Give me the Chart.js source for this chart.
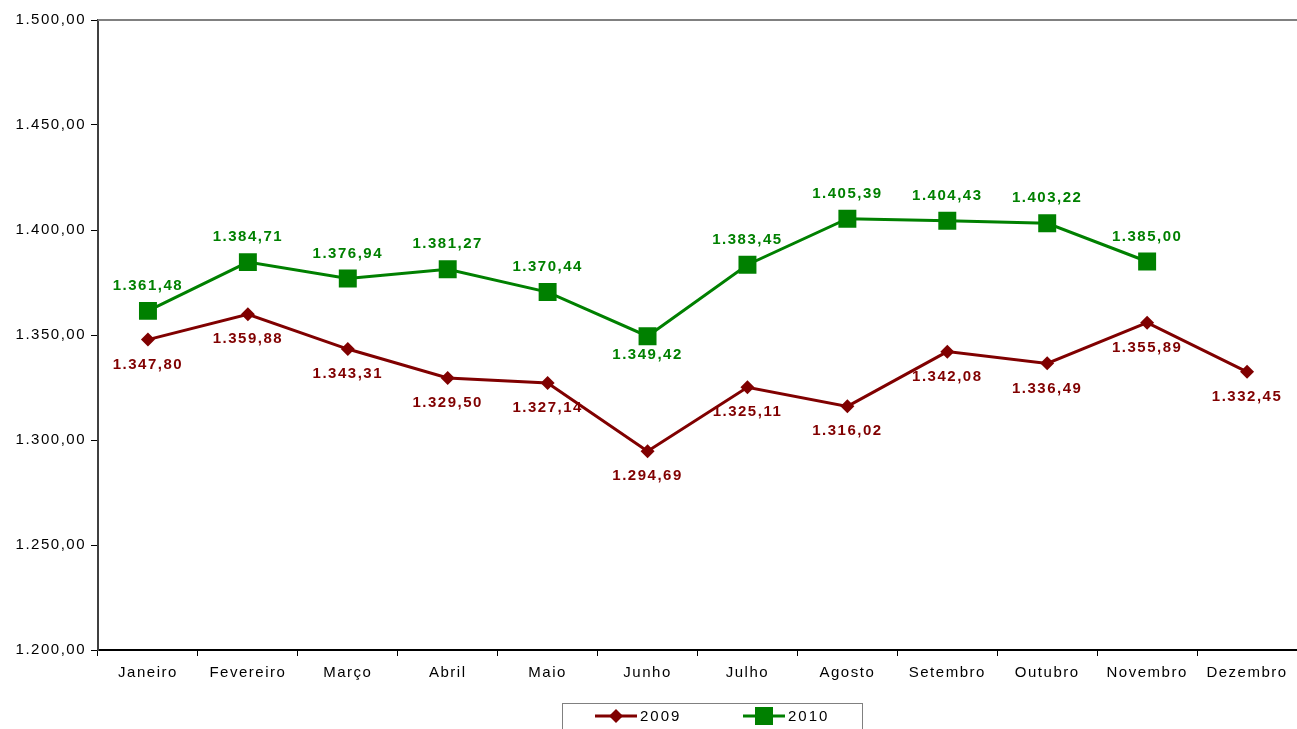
<!DOCTYPE html>
<html>
<head>
<meta charset="utf-8">
<script src="https://cdn.jsdelivr.net/npm/chart.js@4"></script>
<style>
  html, body { margin: 0; padding: 0; background: #fff; }
  #wrap { width: 1297px; height: 729px; }
</style>
</head>
<body>
<div id="wrap"><canvas id="chart" width="1297" height="729"></canvas></div>
<script>
const months = ['Janeiro', 'Fevereiro', 'Março', 'Abril', 'Maio', 'Junho',
  'Julho', 'Agosto', 'Setembro', 'Outubro', 'Novembro', 'Dezembro'];
const values2009 = [1347.80, 1359.88, 1343.31, 1329.50, 1327.14, 1294.69,
  1325.11, 1316.02, 1342.08, 1336.49, 1355.89, 1332.45];
const values2010 = [1361.48, 1384.71, 1376.94, 1381.27, 1370.44, 1349.42,
  1383.45, 1405.39, 1404.43, 1403.22, 1385.00, null];
// label above (-1) or below (+1) the point
const labelSide2010 = [-1, -1, -1, -1, -1, 1, -1, -1, -1, -1, -1, -1];
const yMin = 1200, yMax = 1500, yStep = 50;

const RED = '#800000';
const GREEN = '#008000';
const FONT = 'Arial, "Liberation Sans", sans-serif';

// 1.234,56
function fmt(v, dec) {
  const parts = v.toFixed(dec).split('.');
  const int = parts[0].replace(/\B(?=(\d{3})+(?!\d))/g, '.');
  return int + ',' + parts[1];
}

const spacing = {
  id: 'spacing',
  beforeInit(chart) { chart.ctx.letterSpacing = '1.5px'; },
  beforeDraw(chart) { chart.ctx.letterSpacing = '1.5px'; }
};

const valueLabels = {
  id: 'valueLabels',
  afterDatasetsDraw(chart) {
    const ctx = chart.ctx;
    ctx.save();
    ctx.letterSpacing = '1.5px';
    ctx.font = 'bold 15px ' + FONT;
    ctx.textAlign = 'center';
    ctx.textBaseline = 'middle';
    chart.data.datasets.forEach((ds, i) => {
      const meta = chart.getDatasetMeta(i);
      ctx.fillStyle = ds.borderColor;
      meta.data.forEach((pt, j) => {
        const v = ds.data[j];
        if (v == null) return;
        const side = ds.label === '2010' ? labelSide2010[j] : 1;
        const off = (ds.label === '2010' && side > 0) ? 19 : 25;
        ctx.fillText(fmt(v, 2), pt.x, pt.y + side * off);
      });
    });
    ctx.restore();
  }
};

const frameAndLegend = {
  id: 'frameAndLegend',
  afterDraw(chart) {
    const ctx = chart.ctx;
    const a = chart.chartArea;
    ctx.save();
    // top border of the plot area
    ctx.strokeStyle = '#808080';
    ctx.lineWidth = 2;
    ctx.beginPath();
    ctx.moveTo(a.left, a.top);
    ctx.lineTo(a.right, a.top);
    ctx.stroke();

    // legend box
    ctx.strokeStyle = '#808080';
    ctx.lineWidth = 1;
    ctx.strokeRect(562.5, 703.5, 300, 40);

    ctx.letterSpacing = '2px';
    ctx.font = '15px ' + FONT;
    ctx.textBaseline = 'middle';
    ctx.textAlign = 'left';
    const items = [
      { x: 595, ds: chart.data.datasets[0] },
      { x: 743, ds: chart.data.datasets[1] }
    ];
    const ly = 716;
    items.forEach(it => {
      const c = it.ds.borderColor;
      ctx.strokeStyle = c;
      ctx.lineWidth = 3;
      ctx.beginPath();
      ctx.moveTo(it.x, ly);
      ctx.lineTo(it.x + 42, ly);
      ctx.stroke();
      ctx.fillStyle = c;
      const cx = it.x + 21;
      if (it.ds.pointStyle === 'rectRot') {
        ctx.beginPath();
        ctx.moveTo(cx - 7, ly);
        ctx.lineTo(cx, ly - 7);
        ctx.lineTo(cx + 7, ly);
        ctx.lineTo(cx, ly + 7);
        ctx.closePath();
        ctx.fill();
      } else {
        ctx.fillRect(cx - 9, ly - 9, 18, 18);
      }
      ctx.fillStyle = '#000';
      ctx.fillText(it.ds.label, it.x + 45, ly + 1);
    });
    ctx.restore();
  }
};

new Chart(document.getElementById('chart').getContext('2d'), {
  type: 'line',
  data: {
    labels: months,
    datasets: [
      {
        label: '2009',
        data: values2009,
        borderColor: RED,
        backgroundColor: RED,
        borderWidth: 3,
        pointStyle: 'rectRot',
        pointRadius: 7,
        pointBorderWidth: 0,
        pointBackgroundColor: RED,
        tension: 0
      },
      {
        label: '2010',
        data: values2010,
        borderColor: GREEN,
        backgroundColor: GREEN,
        borderWidth: 3,
        pointStyle: 'rect',
        pointRadius: 12.7,
        pointBorderWidth: 0,
        pointBackgroundColor: GREEN,
        tension: 0
      }
    ]
  },
  options: {
    responsive: false,
    animation: false,
    layout: { autoPadding: false, padding: { top: 20, right: 0, bottom: 0, left: 0 } },
    plugins: {
      legend: { display: false },
      tooltip: { enabled: false }
    },
    scales: {
      x: {
        offset: true,
        afterFit(scale) {
          scale.height = 79;
          scale.paddingLeft = 0;
          scale.paddingRight = 0;
        },
        grid: {
          offset: true,
          drawOnChartArea: false,
          drawTicks: true,
          tickLength: 6,
          color: '#000',
          lineWidth: 1
        },
        border: { color: '#000', width: 2 },
        ticks: {
          color: '#000',
          font: { family: FONT, size: 15 },
          padding: 8,
          maxRotation: 0,
          autoSkip: false
        }
      },
      y: {
        min: yMin,
        max: yMax,
        afterFit(scale) {
          scale.width = 98;
          scale.paddingTop = 0;
          scale.paddingBottom = 0;
        },
        grid: {
          drawOnChartArea: false,
          drawTicks: true,
          tickLength: 7,
          color: '#000',
          lineWidth: 1
        },
        border: { color: '#404040', width: 2 },
        ticks: {
          stepSize: yStep,
          color: '#000',
          font: { family: FONT, size: 15 },
          padding: 5,
          callback: v => fmt(v, 2)
        }
      }
    }
  },
  plugins: [spacing, valueLabels, frameAndLegend]
});
</script>
</body>
</html>
